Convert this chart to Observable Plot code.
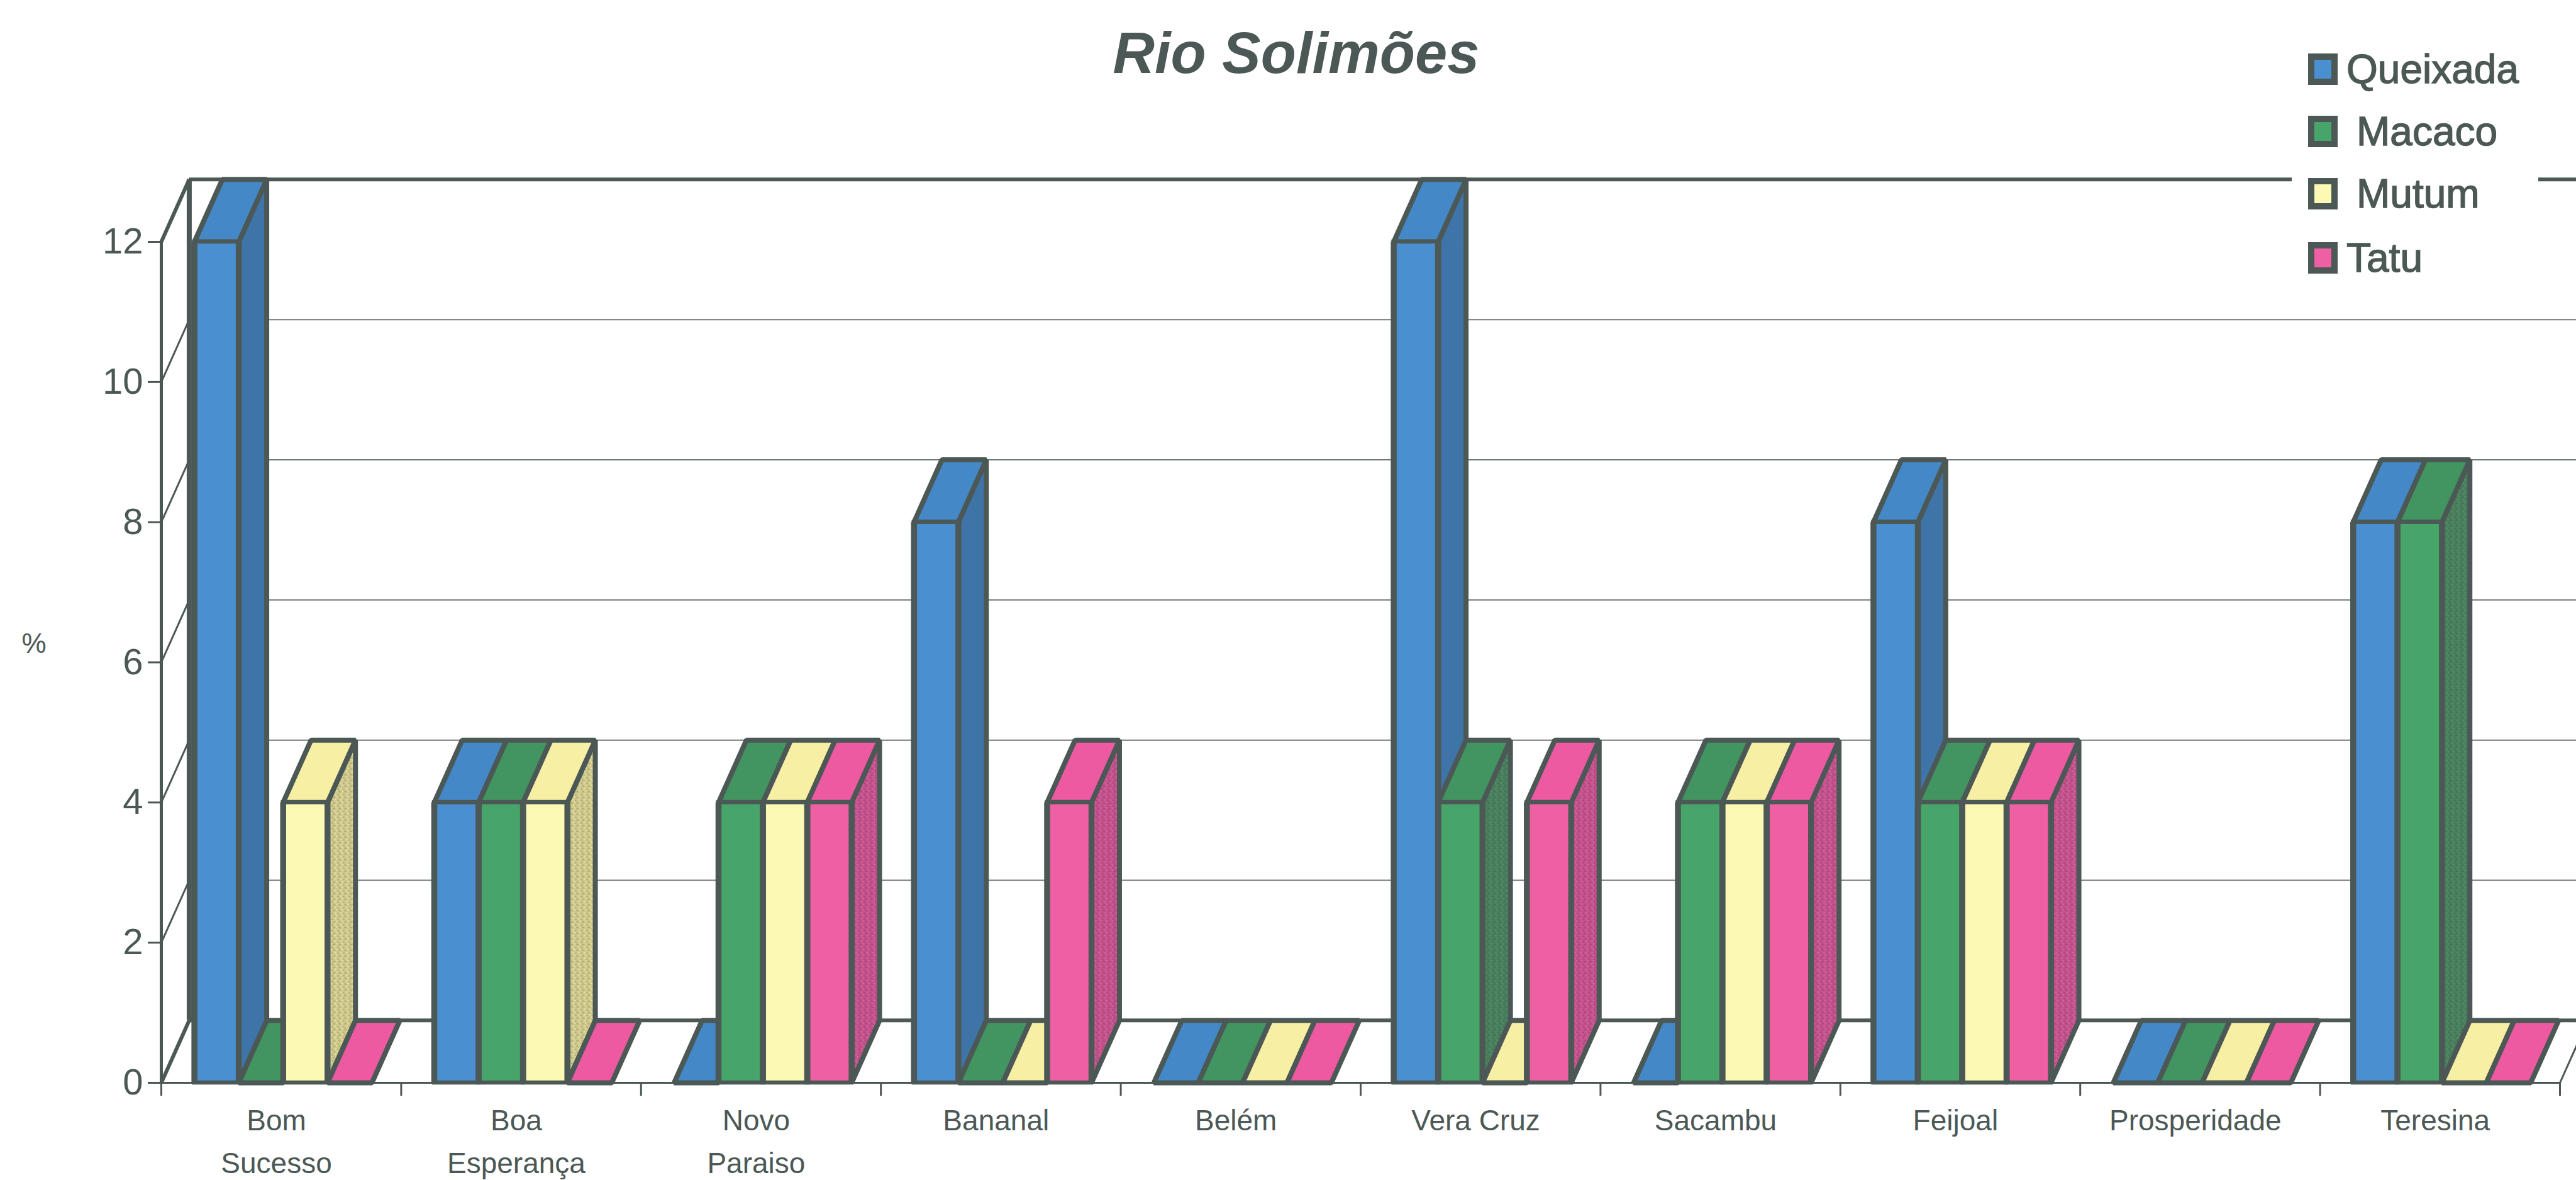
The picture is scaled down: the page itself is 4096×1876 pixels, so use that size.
<!DOCTYPE html>
<html lang="pt">
<head>
<meta charset="utf-8">
<title>Rio Solimões</title>
<script src="https://cdn.jsdelivr.net/npm/d3@7"></script>
<script src="https://cdn.jsdelivr.net/npm/@observablehq/plot@0.6"></script>
<style>
  html, body { margin: 0; background: #fff; }
  body { position: relative; width: 4096px; height: 1876px; overflow: hidden;
         font-family: "Liberation Sans", Arial, sans-serif; color: #4c5855; }
  #title { position: absolute; left: 0; top: 28px; width: 4122px; text-align: center; margin: 0;
           font: italic bold 92px "Liberation Sans", Arial, sans-serif; line-height: 112px; }
  #legend { position: absolute; left: 3644px; top: 60px; width: 392px; height: 410px; background: #fff; }
  .row { position: absolute; height: 100px; display: flex; align-items: center; }
  .swatch { box-sizing: border-box; width: 47px; height: 50px; border: 10px solid #4c5855; }
  .row span { font-size: 64px; -webkit-text-stroke: 1.4px #4c5855; white-space: nowrap; }
  svg { display: block; }
</style>
</head>
<body>
<h1 id="title">Rio Solimões</h1>
<div id="chart"></div>
<div id="legend"></div>
<script>
// Percentages per community, one list per game species.
const communities = ["Bom\nSucesso", "Boa\nEsperança", "Novo\nParaiso", "Bananal", "Belém",
                     "Vera Cruz", "Sacambu", "Feijoal", "Prosperidade", "Teresina"];
const queixada = [12, 4, 0, 8, 0, 12, 0, 8, 0, 8];
const macaco   = [ 0, 4, 4, 0, 0,  4, 4, 4, 0, 8];
const mutum    = [ 4, 4, 4, 0, 0,  0, 4, 4, 0, 0];
const tatu     = [ 0, 0, 4, 4, 0,  4, 4, 4, 0, 0];

const speciesNames = ["Queixada", "Macaco", "Mutum", "Tatu"];
const speciesValues = [queixada, macaco, mutum, tatu];
const frontColors = ["#4a8fd0", "#47a56a", "#fbf9b4", "#ee5fa4"];
const topColors   = ["#4488c8", "#429560", "#f6efa4", "#ee5aa2"];
const sideColors  = ["#3f74a8", "url(#grain-macaco)", "url(#grain-mutum)", "url(#grain-tatu)"];

const ink = "#4c5855";
const yTicks = [0, 2, 4, 6, 8, 10, 12];
const xTicks = d3.range(0, communities.length + 1);

// Oblique projection, expressed in data units.
const depthX = 0.1164, depthY = 0.89;
const groupInset = 0.138, barWidth = 0.185;

// One record per bar, in drawing order.
const bars = communities.flatMap((community, i) =>
  speciesNames.map((species, j) => {
    const x1 = i + groupInset + j * barWidth;
    return {community, species, x1, x2: x1 + barWidth, value: speciesValues[j][i]};
  })
);

// Top and right-hand faces as closed polygons, left to right so nearer bars cover farther ones.
const faces = bars.flatMap((b, k) => {
  const top = [[b.x1, b.value], [b.x2, b.value], [b.x2 + depthX, b.value + depthY], [b.x1 + depthX, b.value + depthY]]
    .map(([x, y]) => ({x, y, id: `t${k}`, shade: b.species + " topo"}));
  if (b.value === 0) return top;
  const side = [[b.x2, 0], [b.x2 + depthX, depthY], [b.x2 + depthX, b.value + depthY], [b.x2, b.value]]
    .map(([x, y]) => ({x, y, id: `s${k}`, shade: b.species + " lado"}));
  return [...side, ...top];
});

// Vertical edges of the front faces, drawn a little heavier than the horizontal ones.
const frontEdges = bars.filter(b => b.value > 0).flatMap(b => [{x: b.x1, value: b.value}, {x: b.x2, value: b.value}]);

const chart = Plot.plot({
  width: 4096,
  height: 1876,
  marginLeft: 256,
  marginRight: 26,
  marginTop: 384,
  marginBottom: 155,
  style: {fontFamily: "'Liberation Sans', Arial, sans-serif", background: "#fff", color: ink},
  x: {domain: [0, communities.length], axis: null},
  y: {domain: [0, 12], axis: null},
  color: {
    domain: [...speciesNames, ...speciesNames.map(s => s + " topo"), ...speciesNames.map(s => s + " lado")],
    range: [...frontColors, ...topColors, ...sideColors]
  },
  marks: [
    // Back wall and floor of the chart box
    Plot.ruleY(yTicks.filter(v => v > 0 && v < 12), {y: v => v + depthY, x1: depthX, x2: communities.length + depthX, stroke: "#6f7775", strokeWidth: 2}),
    Plot.ruleY([12], {y: v => v + depthY, x1: depthX, x2: communities.length + depthX, stroke: ink, strokeWidth: 6}),
    Plot.ruleY([0], {y: v => v + depthY, x1: depthX, x2: communities.length + depthX, stroke: ink, strokeWidth: 6}),
    Plot.ruleX([depthX], {y1: depthY, y2: 12 + depthY, stroke: ink, strokeWidth: 8}),
    Plot.ruleX([0], {y1: 0, y2: 12, stroke: ink, strokeWidth: 5}),
    Plot.ruleY([0], {x1: 0, x2: communities.length, stroke: ink, strokeWidth: 3}),
    Plot.link(yTicks, {x1: 0, y1: v => v, x2: depthX, y2: v => v + depthY, stroke: ink,
                       strokeWidth: v => (v === 0 || v === 12 ? 6 : 3)}),
    Plot.link([communities.length], {x1: n => n, y1: 0, x2: n => n + depthX, y2: depthY, stroke: ink, strokeWidth: 3}),

    // Bars: depth faces, then front faces with their heavier vertical edges
    Plot.line(faces, {x: "x", y: "y", z: "id", fill: "shade", stroke: ink, strokeWidth: 8,
                      curve: "linear-closed", strokeLinejoin: "miter", strokeLinecap: "butt"}),
    Plot.rect(bars, {x1: "x1", x2: "x2", y1: 0, y2: "value", fill: "species", stroke: ink, strokeWidth: 6.5}),
    Plot.ruleX(frontEdges, {x: "x", y1: 0, y2: "value", stroke: ink, strokeWidth: 9.5}),

    // Axes
    Plot.axisY({ticks: yTicks, tickSize: 21, tickPadding: 8, fontSize: 58, label: null, stroke: ink, strokeWidth: 3}),
    Plot.axisX({ticks: xTicks, tickSize: 21, tickFormat: () => "", label: null, stroke: ink, strokeWidth: 3}),
    Plot.text(communities, {x: (d, i) => i + 0.48, y: 0, text: d => d, dy: 27, lineAnchor: "top",
                            lineHeight: 1.48, fontSize: 46, fill: ink}),
    Plot.text(["%"], {frameAnchor: "left", dx: -222, dy: -29, fontSize: 44, fill: ink})
  ]
});

// Fine speckle used on the shaded side faces
const svgNS = "http://www.w3.org/2000/svg";
const defs = document.createElementNS(svgNS, "defs");
[["grain-macaco", "#4a7f5e", "#5c9270", "#3f6f52"],
 ["grain-mutum", "#cfc88c", "#ece6a8", "#a8a26e"],
 ["grain-tatu", "#c2528c", "#d96ca2", "#a8447a"]].forEach(([id, base, light, dark]) => {
  const pattern = document.createElementNS(svgNS, "pattern");
  pattern.setAttribute("id", id);
  pattern.setAttribute("patternUnits", "userSpaceOnUse");
  pattern.setAttribute("width", 9);
  pattern.setAttribute("height", 9);
  const cells = [[0, 0, 9, 9, base], [1, 1, 2, 2, light], [5, 2, 2, 2, dark], [3, 5, 2, 2, light], [7, 6, 2, 2, dark], [0, 7, 2, 1, dark]];
  cells.forEach(([x, y, w, h, fill]) => {
    const r = document.createElementNS(svgNS, "rect");
    Object.entries({x, y, width: w, height: h, fill}).forEach(([k, v]) => r.setAttribute(k, v));
    pattern.append(r);
  });
  defs.append(pattern);
});
chart.prepend(defs);
document.getElementById("chart").append(chart);

// Legend, built from the same series lists
const labelGaps = [14, 30, 30, 14];
const legend = document.getElementById("legend");
speciesNames.forEach((name, j) => {
  const row = document.createElement("div");
  row.className = "row";
  row.style.top = `${[0, 99, 198, 300][j]}px`;
  row.style.left = "26px";
  const swatch = document.createElement("div");
  swatch.className = "swatch";
  swatch.style.background = frontColors[j];
  const label = document.createElement("span");
  label.textContent = name;
  label.style.marginLeft = `${labelGaps[j]}px`;
  row.append(swatch, label);
  legend.append(row);
});
</script>
</body>
</html>
